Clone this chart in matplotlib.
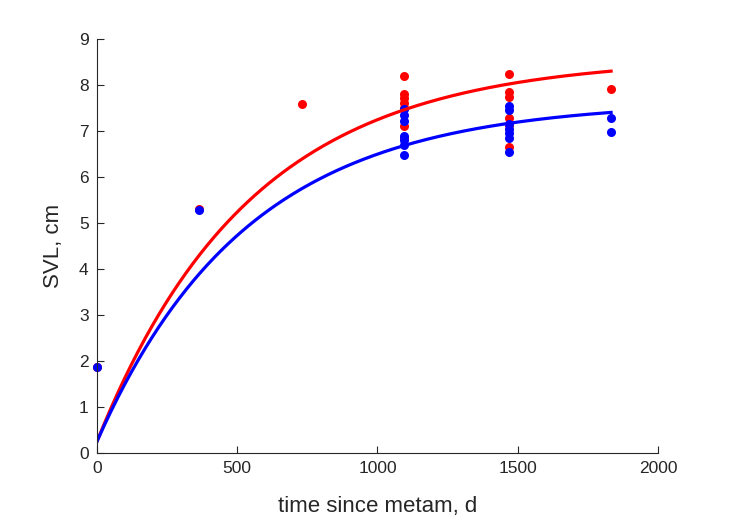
import numpy as np
import matplotlib.pyplot as plt

plt.rcParams['font.family'] = ['Liberation Sans', 'DejaVu Sans']

# Observed SVL (cm) by time since metamorphosis (d)
red_t = [0, 365, 730,
         1095, 1095, 1095, 1095, 1095, 1095, 1095,
         1468, 1468, 1468, 1468, 1468, 1468,
         1833]
red_svl = [1.88, 5.30, 7.58,
           8.20, 7.80, 7.72, 7.62, 7.50, 7.10, 6.85,
           8.24, 7.85, 7.75, 7.28, 7.13, 6.65,
           7.91]

blue_t = [0, 365,
          1095, 1095, 1095, 1095, 1095, 1095, 1095,
          1468, 1468, 1468, 1468, 1468, 1468, 1468,
          1833, 1833]
blue_svl = [1.88, 5.28,
            7.48, 7.35, 7.22, 6.89, 6.80, 6.70, 6.48,
            7.55, 7.45, 7.15, 7.05, 6.95, 6.85, 6.55,
            7.28, 6.98]

# von Bertalanffy fits: L(t) = Linf - (Linf - L0) * exp(-k t)
red_fit = dict(Linf=8.6, L0=0.25, k=0.00182)
blue_fit = dict(Linf=7.65, L0=0.25, k=0.00186)
t_end = 1833

def vb(t, Linf, L0, k):
    return Linf - (Linf - L0) * np.exp(-k * t)

t = np.linspace(0, t_end, 300)

fig = plt.figure(figsize=(7.29, 5.21), dpi=100)
ax = fig.add_axes([0.133, 0.1305, 0.7695, 0.7945])

ax.plot(red_t, red_svl, 'o', color='red', markersize=6.5, markeredgewidth=0, clip_on=False)
ax.plot(blue_t, blue_svl, 'o', color='blue', markersize=6.5, markeredgewidth=0, clip_on=False)
ax.plot(t, vb(t, **red_fit), color='red', linewidth=2.3)
ax.plot(t, vb(t, **blue_fit), color='blue', linewidth=2.3)

ax.set_xlim(0, 2000)
ax.set_ylim(0, 9)
ax.set_xticks(range(0, 2001, 500))
ax.set_yticks(range(0, 10))
ax.spines['top'].set_visible(False)
ax.spines['right'].set_visible(False)
for s in ['left', 'bottom']:
    ax.spines[s].set_color('#262626')
    ax.spines[s].set_linewidth(0.8)
ax.tick_params(direction='in', length=5, colors='#262626', labelsize=12.5)
ax.tick_params(axis='x', pad=6)
ax.tick_params(axis='y', pad=6)
ax.set_xlabel('time since metam, d', fontsize=16, color='#262626', labelpad=14)
ax.set_ylabel('SVL, cm', fontsize=16, color='#262626', labelpad=11)

fig.savefig('out.png', dpi=100)
